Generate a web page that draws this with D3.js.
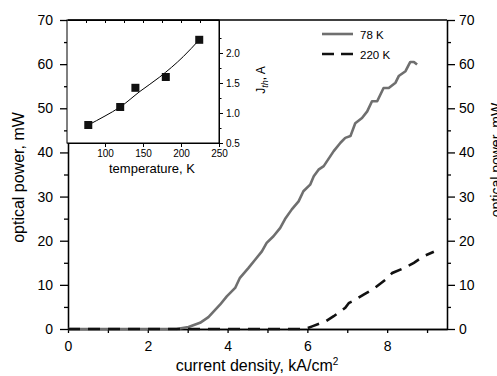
<!DOCTYPE html>
<html>
<head>
<meta charset="utf-8">
<script src="https://cdn.jsdelivr.net/npm/d3@7"></script>
<style>
  body { margin: 0; background: #fff; }
  svg { font-family: "Liberation Sans", Arial, sans-serif; }
  .axis path, .axis line { stroke: #000; stroke-width: 1.3; }
  .axis text { font-size: 14px; fill: #000; }
  .inset .axis path, .inset .axis line { stroke-width: 1; }
  .inset .axis text { font-size: 10px; }
</style>
</head>
<body>
<div class="chart"></div>
<script>
// output power vs current density at two temperatures, with threshold inset

// 78 K curve
var current78 = [0, 2.72, 3.02, 3.31, 3.52, 3.81, 3.98, 4.19, 4.31, 4.52, 4.69, 4.86, 4.98, 5.15, 5.32, 5.44,
  5.61, 5.78, 5.90, 6.07, 6.16, 6.28, 6.41, 6.66, 6.83, 6.95, 7.08, 7.20, 7.37, 7.50, 7.62, 7.75,
  7.91, 8.04, 8.21, 8.29, 8.46, 8.58, 8.67, 8.75];
var power78 = [0, 0, 0.45, 1.4, 2.7, 5.5, 7.4, 9.3, 11.6, 13.8, 15.7, 17.6, 19.5, 21.0, 22.9, 24.9,
  27.1, 28.9, 31.2, 32.7, 34.6, 36.1, 36.9, 40.3, 42.2, 43.3, 43.7, 46.6, 47.8, 49.3, 51.6, 51.6,
  54.6, 54.6, 55.8, 57.3, 58.4, 60.5, 60.5, 59.9];

// 220 K curve
var current220 = [0, 5.95, 6.12, 6.45, 6.66, 6.95, 7.04, 7.16, 7.41, 7.66, 7.96, 8.13, 8.42, 8.67, 8.92, 9.17];
var power220 = [0, 0, 0.6, 1.7, 2.9, 4.8, 5.9, 6.4, 7.8, 9.1, 11.2, 12.7, 13.8, 15.0, 16.5, 17.5];

// inset: threshold current vs temperature
var tempK = [78, 120, 140, 180, 224];
var jth = [0.80, 1.10, 1.42, 1.60, 2.22];
var fitT = [78, 100, 120, 146, 172, 203, 224];
var fitJ = [0.80, 0.95, 1.10, 1.36, 1.60, 1.94, 2.22];

// ticks
var xTicks = [0, 2, 4, 6, 8];
var xMinor = [1, 3, 5, 7, 9];
var yTicks = [0, 10, 20, 30, 40, 50, 60, 70];
var yMinor = [5, 15, 25, 35, 45, 55, 65];
var insetXTicks = [100, 150, 200, 250];
var insetTopTicks = [75, 100, 125, 150, 175, 200, 225];
var insetYTicks = [0.5, 1.0, 1.5, 2.0];
var insetYMinor = [0.75, 1.25, 1.75, 2.25];

var svgWidth = 497;
var svgHeight = 376;
var margin = { top: 20, right: 50, bottom: 47, left: 68 };
var width = svgWidth - margin.left - margin.right;
var height = svgHeight - margin.top - margin.bottom;

var svg = d3.select(".chart")
  .append("svg")
  .attr("width", svgWidth)
  .attr("height", svgHeight);

var chart = svg.append("g")
  .attr("transform", "translate(" + margin.left + "," + margin.top + ")");

var xScale = d3.scaleLinear().domain([0, 9.5]).range([0, width]);
var yScale = d3.scaleLinear().domain([0, 70]).range([height, 0]);

// top frame line
chart.append("line")
  .attr("x1", 0).attr("x2", width)
  .attr("y1", 0).attr("y2", 0)
  .attr("stroke", "#000").attr("stroke-width", 1.3);

// minor ticks first (no labels)
chart.append("g").attr("class", "axis")
  .attr("transform", "translate(0," + height + ")")
  .call(d3.axisBottom(xScale).tickValues(xMinor).tickSize(4).tickSizeOuter(0).tickFormat(""));
chart.append("g").attr("class", "axis")
  .call(d3.axisLeft(yScale).tickValues(yMinor).tickSize(4).tickSizeOuter(0).tickFormat(""));
chart.append("g").attr("class", "axis")
  .attr("transform", "translate(" + width + ",0)")
  .call(d3.axisRight(yScale).tickValues(yMinor).tickSize(4).tickSizeOuter(0).tickFormat(""));

// major axes
chart.append("g").attr("class", "axis")
  .attr("transform", "translate(0," + height + ")")
  .call(d3.axisBottom(xScale).tickValues(xTicks).tickSize(4).tickSizeOuter(0).tickPadding(8));
chart.append("g").attr("class", "axis")
  .call(d3.axisLeft(yScale).tickValues(yTicks).tickSize(8).tickSizeOuter(0).tickPadding(7));
chart.append("g").attr("class", "axis")
  .attr("transform", "translate(" + width + ",0)")
  .call(d3.axisRight(yScale).tickValues(yTicks).tickSize(8).tickSizeOuter(0).tickPadding(4));

// curves
var line = d3.line()
  .x(function(d) { return xScale(d[0]); })
  .y(function(d) { return yScale(d[1]); });

chart.append("path")
  .datum(d3.zip(current78, power78))
  .attr("d", line)
  .attr("fill", "none")
  .attr("stroke", "#6f6f6f")
  .attr("stroke-width", 2.6)
  .attr("stroke-linejoin", "round");

chart.append("path")
  .datum(d3.zip(current220, power220))
  .attr("d", line)
  .attr("fill", "none")
  .attr("stroke", "#111")
  .attr("stroke-width", 2.6)
  .attr("stroke-dasharray", "12,8");

// legend
var legend = svg.append("g");
legend.append("line")
  .attr("x1", 322).attr("x2", 353).attr("y1", 34).attr("y2", 34)
  .attr("stroke", "#6f6f6f").attr("stroke-width", 2.6);
legend.append("text")
  .attr("x", 360).attr("y", 38.5)
  .attr("font-size", 11.5)
  .text("78 K");
legend.append("line")
  .attr("x1", 322).attr("x2", 353).attr("y1", 54).attr("y2", 54)
  .attr("stroke", "#111").attr("stroke-width", 2.6)
  .attr("stroke-dasharray", "12,7");
legend.append("text")
  .attr("x", 360).attr("y", 58.5)
  .attr("font-size", 11.5)
  .text("220 K");

// axis labels
svg.append("text")
  .attr("transform", "translate(24," + (margin.top + height / 2 + 3) + ") rotate(-90)")
  .attr("text-anchor", "middle")
  .attr("font-size", 16)
  .text("optical power, mW");

// right label runs off the edge in the original too
svg.append("text")
  .attr("transform", "translate(501,160) rotate(-90)")
  .attr("text-anchor", "middle")
  .attr("font-size", 14)
  .text("optical power, mW");

var xLabel = svg.append("text")
  .attr("x", 257).attr("y", 371)
  .attr("text-anchor", "middle")
  .attr("font-size", 16)
  .text("current density, kA/cm");
xLabel.append("tspan")
  .attr("dy", -6)
  .attr("font-size", 10)
  .text("2");

// inset
var inset = svg.append("g")
  .attr("class", "inset")
  .attr("transform", "translate(67,20)");
var insetW = 152;
var insetH = 123;

var tScale = d3.scaleLinear().domain([50, 250]).range([0, insetW]);
var jScale = d3.scaleLinear().domain([0.5, 2.55]).range([insetH, 0]);

inset.append("rect")
  .attr("width", insetW).attr("height", insetH)
  .attr("fill", "#fff")
  .attr("stroke", "#000").attr("stroke-width", 1);

inset.append("g").attr("class", "axis")
  .call(d3.axisBottom(tScale).tickValues(insetTopTicks).tickSize(3).tickSizeOuter(0).tickFormat(""));

inset.append("g").attr("class", "axis")
  .attr("transform", "translate(0," + insetH + ")")
  .call(d3.axisBottom(tScale).tickValues(insetXTicks).tickSize(4).tickSizeOuter(0).tickPadding(3));

inset.append("g").attr("class", "axis")
  .attr("transform", "translate(" + insetW + ",0)")
  .call(d3.axisRight(jScale).tickValues(insetYMinor).tickSize(2.5).tickSizeOuter(0).tickFormat(""));
inset.append("g").attr("class", "axis")
  .attr("transform", "translate(" + insetW + ",0)")
  .call(d3.axisRight(jScale).tickValues(insetYTicks).tickSize(4).tickSizeOuter(0).tickPadding(3)
    .tickFormat(d3.format(".1f")));

inset.append("path")
  .datum(d3.zip(fitT, fitJ))
  .attr("d", d3.line()
    .x(function(d) { return tScale(d[0]); })
    .y(function(d) { return jScale(d[1]); })
    .curve(d3.curveMonotoneX))
  .attr("fill", "none")
  .attr("stroke", "#000")
  .attr("stroke-width", 1);

inset.selectAll("rect.pt")
  .data(d3.zip(tempK, jth))
  .enter().append("rect")
  .attr("class", "pt")
  .attr("x", function(d) { return tScale(d[0]) - 4; })
  .attr("y", function(d) { return jScale(d[1]) - 4; })
  .attr("width", 8)
  .attr("height", 8)
  .attr("fill", "#111");

inset.append("text")
  .attr("x", insetW / 2 + 9).attr("y", insetH + 30)
  .attr("text-anchor", "middle")
  .attr("font-size", 13)
  .text("temperature, K");

var jLabel = svg.append("text")
  .attr("transform", "translate(265,80) rotate(-90)")
  .attr("text-anchor", "middle")
  .attr("font-size", 12);
jLabel.append("tspan").text("J");
jLabel.append("tspan").attr("font-size", 9).attr("font-style", "italic").attr("dy", 3).text("th");
jLabel.append("tspan").attr("dy", -3).text(", A");
</script>
</body>
</html>
